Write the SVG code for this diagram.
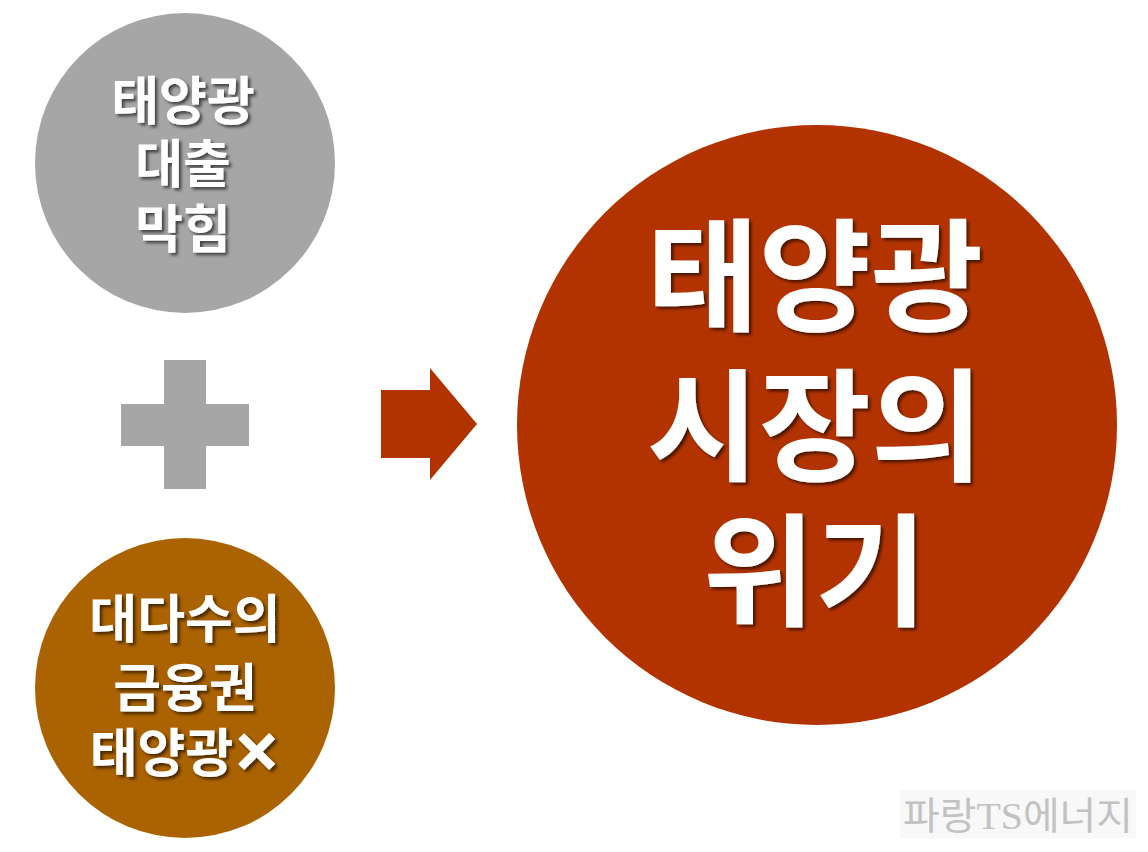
<svg xmlns="http://www.w3.org/2000/svg" width="1148" height="852" viewBox="0 0 1148 852">
<defs>
<filter id="sh" x="-10%" y="-10%" width="130%" height="130%">
<feDropShadow dx="2.5" dy="2.5" stdDeviation="1.5" flood-color="#000" flood-opacity="0.6"/>
</filter>
<style>
.t{font-family:"Noto Sans CJK KR","Noto Sans",sans-serif;font-weight:700;fill:#fff;text-anchor:middle;filter:url(#sh)}
.s{font-size:52px}
.b{font-size:122px}
.x{font-family:"DejaVu Sans",sans-serif;font-size:56px;font-weight:700;stroke:#fff;stroke-width:3}
.wm{font-family:"Liberation Serif","Noto Sans CJK KR",serif;font-size:38px;fill:#c2c2c2}
</style>
</defs>
<rect width="1148" height="852" fill="#fff"/>
<g id="node-loan">
<circle cx="185" cy="163" r="150" fill="#a6a6a6"/>
<text class="t s" x="183" y="120">태양광</text>
<text class="t s" x="183" y="183">대출</text>
<text class="t s" x="183" y="248">막힘</text>
</g>
<g id="plus">
<rect x="121" y="404" width="128" height="42" fill="#a6a6a6"/>
<rect x="164" y="360" width="42" height="129" fill="#a6a6a6"/>
</g>
<g id="node-finance">
<circle cx="185" cy="688" r="150" fill="#ab6200"/>
<text class="t s" x="185" y="638">대다수의</text>
<text class="t s" x="185" y="707">금융권</text>
<text class="t s" x="185" y="772">태양광<tspan class="x">✕</tspan></text>
</g>
<g id="connectors">
<polygon points="381,390 430,390 430,368 477,424 430,480 430,458 381,458" fill="#b33300"/>
</g>
<g id="node-crisis">
<circle cx="817" cy="425" r="300" fill="#b33300"/>
<text class="t b" x="815" y="321">태양광</text>
<text class="t b" x="815" y="471">시장의</text>
<text class="t b" x="815" y="616">위기</text>
</g>
<g id="watermark">
<rect x="900" y="790" width="236" height="48" fill="#f8f8f8"/>
<text class="wm" x="903" y="829" textLength="230" lengthAdjust="spacingAndGlyphs">파랑TS에너지</text>
</g>
</svg>
